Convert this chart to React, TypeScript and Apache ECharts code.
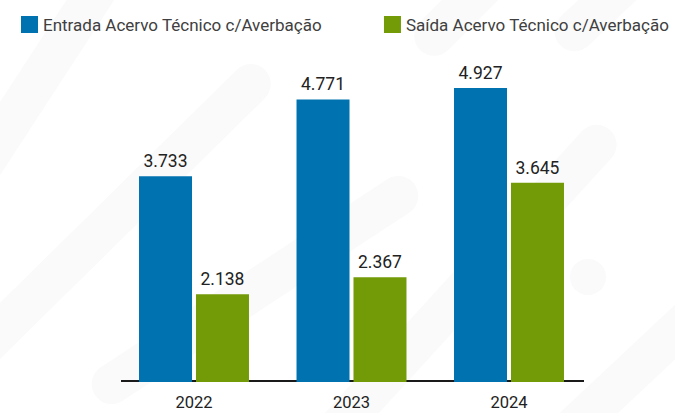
import React, { useEffect, useRef } from "react";
import * as echarts from "echarts";

const categories = ["2022", "2023", "2024"];
const entradaValues = [3733, 4771, 4927];
const saidaValues = [2138, 2367, 3645];
const seriesNames = ["Entrada Acervo Técnico c/Averbação", "Saída Acervo Técnico c/Averbação"];

const BLUE = "#0072B0";
const GREEN = "#739B07";
const FONT = "Roboto, 'Noto Sans', sans-serif";

const fmt = (v: number) => {
  const s = String(Math.round(v));
  return s.replace(/\B(?=(\d{3})+(?!\d))/g, ".");
};

// decorative faint background stripes: [x1, y1, x2, y2]
const stripes: number[][] = [
  [-40, 200, 110, -30],
  [-60, 390, 265, 70],
  [95, 395, 415, 185],
  [300, 470, 610, 130],
  [420, 50, 520, -50],
  [560, 45, 660, -50],
  [560, 440, 720, 290],
];

function stripeEl(s: number[], w: number) {
  const [x1, y1, x2, y2] = s;
  const L = Math.hypot(x2 - x1, y2 - y1);
  const ang = Math.atan2(y1 - y2, x2 - x1);
  return {
    type: "rect",
    x: (x1 + x2) / 2,
    y: (y1 + y2) / 2,
    rotation: ang,
    shape: { x: -L / 2, y: -w / 2, width: L, height: w, r: w / 2 },
    style: { fill: "#fafafa" },
    z: 0,
    silent: true,
  };
}

export default function App() {
  const ref = useRef<HTMLDivElement>(null);
  useEffect(() => {
    if (!ref.current) return;
    const chart = echarts.init(ref.current, undefined, { renderer: "svg" });
    const labelCfg = {
      show: true,
      position: "top",
      distance: 6,
      fontSize: 17.5,
      color: "#222",
      fontFamily: FONT,
      formatter: (p: any) => fmt(p.value),
    };
    chart.setOption({
      animation: false,
      backgroundColor: "#ffffff",
      graphic: [
        ...stripes.map((s) => stripeEl(s, 40)),
        {
          type: "circle",
          shape: { cx: 588, cy: 277, r: 18 },
          style: { fill: "#fafafa" },
          z: 0,
          silent: true,
        },
        {
          type: "line",
          shape: { x1: 121, y1: 381, x2: 584, y2: 381 },
          style: { stroke: "#1a1a1a", lineWidth: 2 },
          z: 1,
          silent: true,
        },
      ],
      legend: {
        left: 16,
        top: 11,
        width: 800,
        itemWidth: 17,
        itemHeight: 17,
        itemGap: 62,
        icon: "rect",
        textStyle: { fontSize: 17, color: "#404040", fontFamily: FONT },
        data: seriesNames,
      },
      grid: { left: 115.25, right: 87.25, top: 45.5, bottom: 31 },
      xAxis: {
        type: "category",
        data: categories,
        axisLine: { show: false },
        axisTick: { show: false },
        axisLabel: { fontSize: 16.5, color: "#222", fontFamily: FONT, margin: 12 },
      },
      yAxis: {
        type: "value",
        min: 950,
        max: 5500,
        show: false,
        splitLine: { show: false },
      },
      series: [
        {
          name: seriesNames[0],
          type: "bar",
          data: entradaValues,
          barWidth: 53,
          barGap: "7.5%",
          itemStyle: { color: BLUE },
          label: labelCfg,
          z: 3,
        },
        {
          name: seriesNames[1],
          type: "bar",
          data: saidaValues,
          barWidth: 53,
          barGap: "7.5%",
          itemStyle: { color: GREEN },
          label: labelCfg,
          z: 3,
        },
      ],
    });
    return () => chart.dispose();
  }, []);
  return (
    <div
      ref={ref}
      style={{ position: "fixed", left: 0, top: 0, width: 675, height: 413 }}
    />
  );
}
